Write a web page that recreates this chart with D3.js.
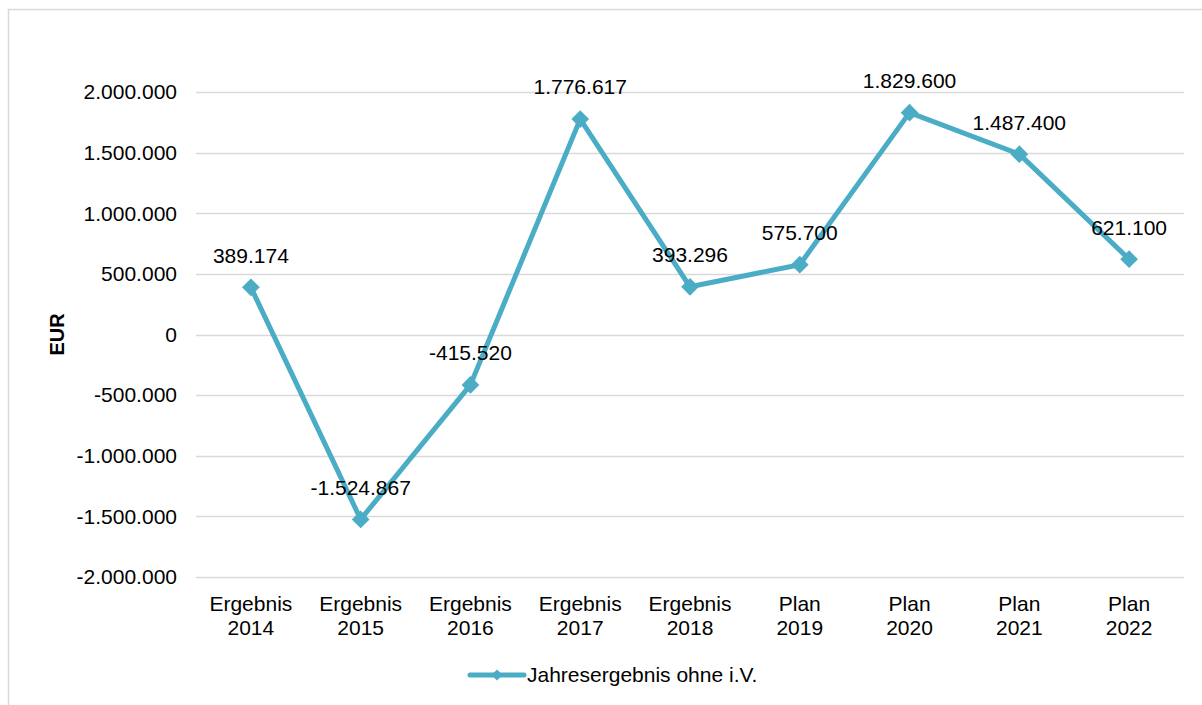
<!DOCTYPE html>
<html>
<head>
<meta charset="utf-8">
<script src="https://cdn.jsdelivr.net/npm/d3@7"></script>
<style>
  body { margin: 0; background: #fff; }
  text { font-family: "Liberation Sans", Arial, sans-serif; fill: #000; }
</style>
</head>
<body>
<svg id="chart" width="1202" height="705"></svg>
<script>
// data
const categories = [
    ['Ergebnis', '2014'], ['Ergebnis', '2015'], ['Ergebnis', '2016'],
    ['Ergebnis', '2017'], ['Ergebnis', '2018'], ['Plan', '2019'],
    ['Plan', '2020'], ['Plan', '2021'], ['Plan', '2022']
];
const values = [389174, -1524867, -415520, 1776617, 393296, 575700, 1829600, 1487400, 621100];
const yTicks = [-2000000, -1500000, -1000000, -500000, 0, 500000, 1000000, 1500000, 2000000];
const seriesName = 'Jahresergebnis ohne i.V.';
const axisTitle = 'EUR';

const lineColor = '#4BACC6';
const de = d3.formatLocale({decimal: ',', thousands: '.', grouping: [3], currency: ['', ' €'], minus: '-'});
const fmt = de.format(',d');

const svg = d3.select('#chart');

// chart frame
svg.append('rect')
    .attr('x', 8.5).attr('y', 9.5)
    .attr('width', 1300).attr('height', 800)
    .attr('fill', 'none')
    .attr('stroke', '#d9d9d9')
    .attr('stroke-width', 1.5);

const x = d3.scaleBand()
    .domain(categories.map((d, i) => i))
    .range([196, 1184]);

const y = d3.scaleLinear()
    .domain([-2000000, 2000000])
    .range([577, 92]);

// gridlines
svg.append('g')
    .selectAll('line')
    .data(yTicks)
    .join('line')
    .attr('x1', 196).attr('x2', 1184)
    .attr('y1', d => Math.round(y(d)) + 0.5)
    .attr('y2', d => Math.round(y(d)) + 0.5)
    .attr('stroke', '#d9d9d9')
    .attr('stroke-width', 1.3);

// y tick labels
svg.append('g')
    .selectAll('text')
    .data(yTicks)
    .join('text')
    .attr('x', 177)
    .attr('y', d => y(d))
    .attr('dy', '0.35em')
    .attr('text-anchor', 'end')
    .attr('font-size', 21)
    .text(d => fmt(d));

// axis title
svg.append('text')
    .attr('transform', `translate(64,${y(0)}) rotate(-90)`)
    .attr('text-anchor', 'middle')
    .attr('font-size', 20)
    .attr('font-weight', 'bold')
    .text(axisTitle);

// category labels
const catG = svg.append('g')
    .selectAll('text')
    .data(categories)
    .join('text')
    .attr('text-anchor', 'middle')
    .attr('font-size', 21);
catG.selectAll('tspan')
    .data((d, i) => d.map(t => ({t, i})))
    .join('tspan')
    .attr('x', d => x(d.i) + x.bandwidth() / 2)
    .attr('y', (d, j) => 611 + j * 24)
    .text(d => d.t);

const cx = i => x(i) + x.bandwidth() / 2;

// series line
svg.append('path')
    .datum(values)
    .attr('fill', 'none')
    .attr('stroke', lineColor)
    .attr('stroke-width', 5)
    .attr('stroke-linejoin', 'round')
    .attr('d', d3.line().x((d, i) => cx(i)).y(d => y(d)));

// markers
const diamond = d3.symbol().type(d3.symbolDiamond2).size(200);
svg.append('g')
    .selectAll('path')
    .data(values)
    .join('path')
    .attr('transform', (d, i) => `translate(${cx(i)},${y(d)})`)
    .attr('d', diamond)
    .attr('fill', lineColor);

// data labels
svg.append('g')
    .selectAll('text')
    .data(values)
    .join('text')
    .attr('x', (d, i) => cx(i))
    .attr('y', d => y(d) - 32)
    .attr('dy', '0.35em')
    .attr('text-anchor', 'middle')
    .attr('font-size', 21)
    .text(d => fmt(d));

// legend
const lg = svg.append('g').attr('transform', 'translate(470,675)');
lg.append('line')
    .attr('x1', 0).attr('x2', 54)
    .attr('y1', 0).attr('y2', 0)
    .attr('stroke', lineColor)
    .attr('stroke-width', 5)
    .attr('stroke-linecap', 'round');
lg.append('path')
    .attr('transform', 'translate(27,0)')
    .attr('d', d3.symbol().type(d3.symbolDiamond2).size(80))
    .attr('fill', lineColor);
lg.append('text')
    .attr('x', 57)
    .attr('y', 0)
    .attr('dy', '0.35em')
    .attr('font-size', 21)
    .text(seriesName);
</script>
</body>
</html>
